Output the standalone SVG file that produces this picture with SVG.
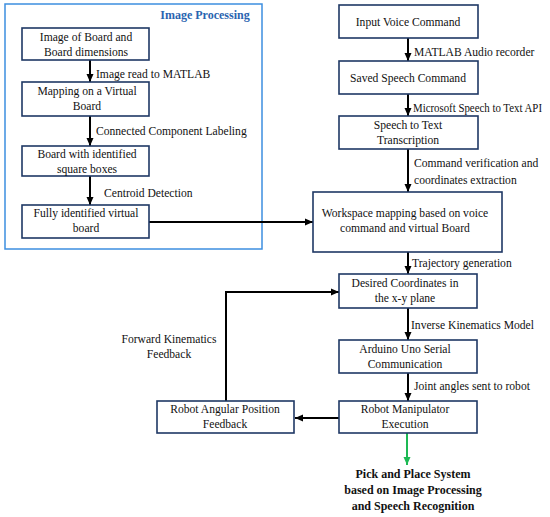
<svg xmlns="http://www.w3.org/2000/svg" width="550" height="517" viewBox="0 0 550 517">
<defs>
<marker id="ah" markerUnits="userSpaceOnUse" markerWidth="8" markerHeight="8" viewBox="0 0 8 8" refX="8" refY="4" orient="auto"><path d="M0,0.5 L8,4 L0,7.5 Z" fill="#000"/></marker>
<marker id="ahg" markerUnits="userSpaceOnUse" markerWidth="8" markerHeight="8" viewBox="0 0 8 8" refX="8" refY="4" orient="auto"><path d="M0,0.5 L8,4 L0,7.5 Z" fill="#1db954"/></marker>
</defs>
<style>
.box{fill:#fff;stroke:#1f3864;stroke-width:1.6}
.t{font-family:"Liberation Serif","Times New Roman",serif;font-size:11.6px;fill:#111}
.c{text-anchor:middle}
.b{font-weight:bold;font-size:12px}
.ln{fill:none;stroke:#000;stroke-width:2;marker-end:url(#ah)}
</style>
<rect width="550" height="517" fill="#fff"/>
<g id="image-processing-frame">
<rect x="5" y="4" width="257" height="245" fill="none" stroke="#3d8ee0" stroke-width="1.5"/>
<text class="t c b" x="205" y="19" style="fill:#2a64b0">Image Processing</text>
</g>
<g id="connectors">
<line class="ln" x1="90" y1="60" x2="90" y2="82"/>
<line class="ln" x1="90" y1="116" x2="90" y2="146"/>
<line class="ln" x1="90" y1="176" x2="90" y2="205"/>
<line class="ln" x1="149" y1="222" x2="313" y2="222"/>
<line class="ln" x1="408" y1="38" x2="408" y2="61"/>
<line class="ln" x1="408" y1="94" x2="408" y2="116"/>
<line class="ln" x1="408" y1="149" x2="408" y2="192"/>
<line class="ln" x1="408" y1="252" x2="408" y2="274"/>
<line class="ln" x1="408" y1="308" x2="408" y2="340"/>
<line class="ln" x1="408" y1="373" x2="408" y2="401"/>
<line class="ln" x1="339" y1="418" x2="295" y2="418"/>
<polyline class="ln" points="226,401 226,292 339,292"/>
<line x1="407" y1="433" x2="407" y2="465" stroke="#1db954" stroke-width="2" marker-end="url(#ahg)"/>
<text class="t" x="96" y="78">Image read to MATLAB</text>
<text class="t" x="96" y="135">Connected Component Labeling</text>
<text class="t" x="104" y="197">Centroid Detection</text>
<text class="t" x="414" y="56">MATLAB Audio recorder</text>
<text class="t" x="413" y="112" textLength="129" lengthAdjust="spacingAndGlyphs">Microsoft Speech to Text API</text>
<text class="t" x="414" y="167">Command verification and</text>
<text class="t" x="414" y="184">coordinates extraction</text>
<text class="t" x="412" y="267">Trajectory generation</text>
<text class="t" x="411" y="329">Inverse Kinematics Model</text>
<text class="t" x="414" y="390">Joint angles sent to robot</text>
<text class="t c" x="169" y="343">Forward Kinematics</text>
<text class="t c" x="169" y="358">Feedback</text>
</g>
<g id="n1"><rect class="box" x="22" y="28" width="127" height="32"/><text class="t c" x="86" y="41">Image of Board and</text><text class="t c" x="86" y="56">Board dimensions</text></g>
<g id="n2"><rect class="box" x="22" y="82" width="127" height="34"/><text class="t c" x="87" y="95">Mapping on a Virtual</text><text class="t c" x="87" y="110">Board</text></g>
<g id="n3"><rect class="box" x="22" y="146" width="127" height="30"/><text class="t c" x="87" y="158">Board with identified</text><text class="t c" x="87" y="173">square boxes</text></g>
<g id="n4"><rect class="box" x="22" y="205" width="127" height="33"/><text class="t c" x="86" y="217">Fully identified virtual</text><text class="t c" x="86" y="232">board</text></g>
<g id="r1"><rect class="box" x="339" y="5" width="139" height="33"/><text class="t c" x="408" y="26">Input Voice Command</text></g>
<g id="r2"><rect class="box" x="339" y="61" width="139" height="33"/><text class="t c" x="408" y="82">Saved Speech Command</text></g>
<g id="r3"><rect class="box" x="339" y="116" width="139" height="33"/><text class="t c" x="408" y="129">Speech to Text</text><text class="t c" x="408" y="144">Transcription</text></g>
<g id="r4"><rect class="box" x="313" y="192" width="189" height="60"/><text class="t c" x="405" y="217">Workspace mapping based on voice</text><text class="t c" x="405" y="232">command and virtual Board</text></g>
<g id="r5"><rect class="box" x="339" y="274" width="138" height="34"/><text class="t c" x="405" y="287">Desired Coordinates in</text><text class="t c" x="405" y="302">the x-y plane</text></g>
<g id="r6"><rect class="box" x="339" y="340" width="138" height="33"/><text class="t c" x="405" y="353">Arduino Uno Serial</text><text class="t c" x="405" y="368">Communication</text></g>
<g id="r7"><rect class="box" x="339" y="401" width="138" height="32"/><text class="t c" x="405" y="413">Robot Manipulator</text><text class="t c" x="405" y="428">Execution</text></g>
<g id="fb"><rect class="box" x="157" y="401" width="137" height="32"/><text class="t c" x="225" y="413">Robot Angular Position</text><text class="t c" x="225" y="428">Feedback</text></g>
<g id="result">
<text class="t c b" x="413" y="478">Pick and Place System</text>
<text class="t c b" x="413" y="494">based on Image Processing</text>
<text class="t c b" x="413" y="510">and Speech Recognition</text>
</g>
</svg>
